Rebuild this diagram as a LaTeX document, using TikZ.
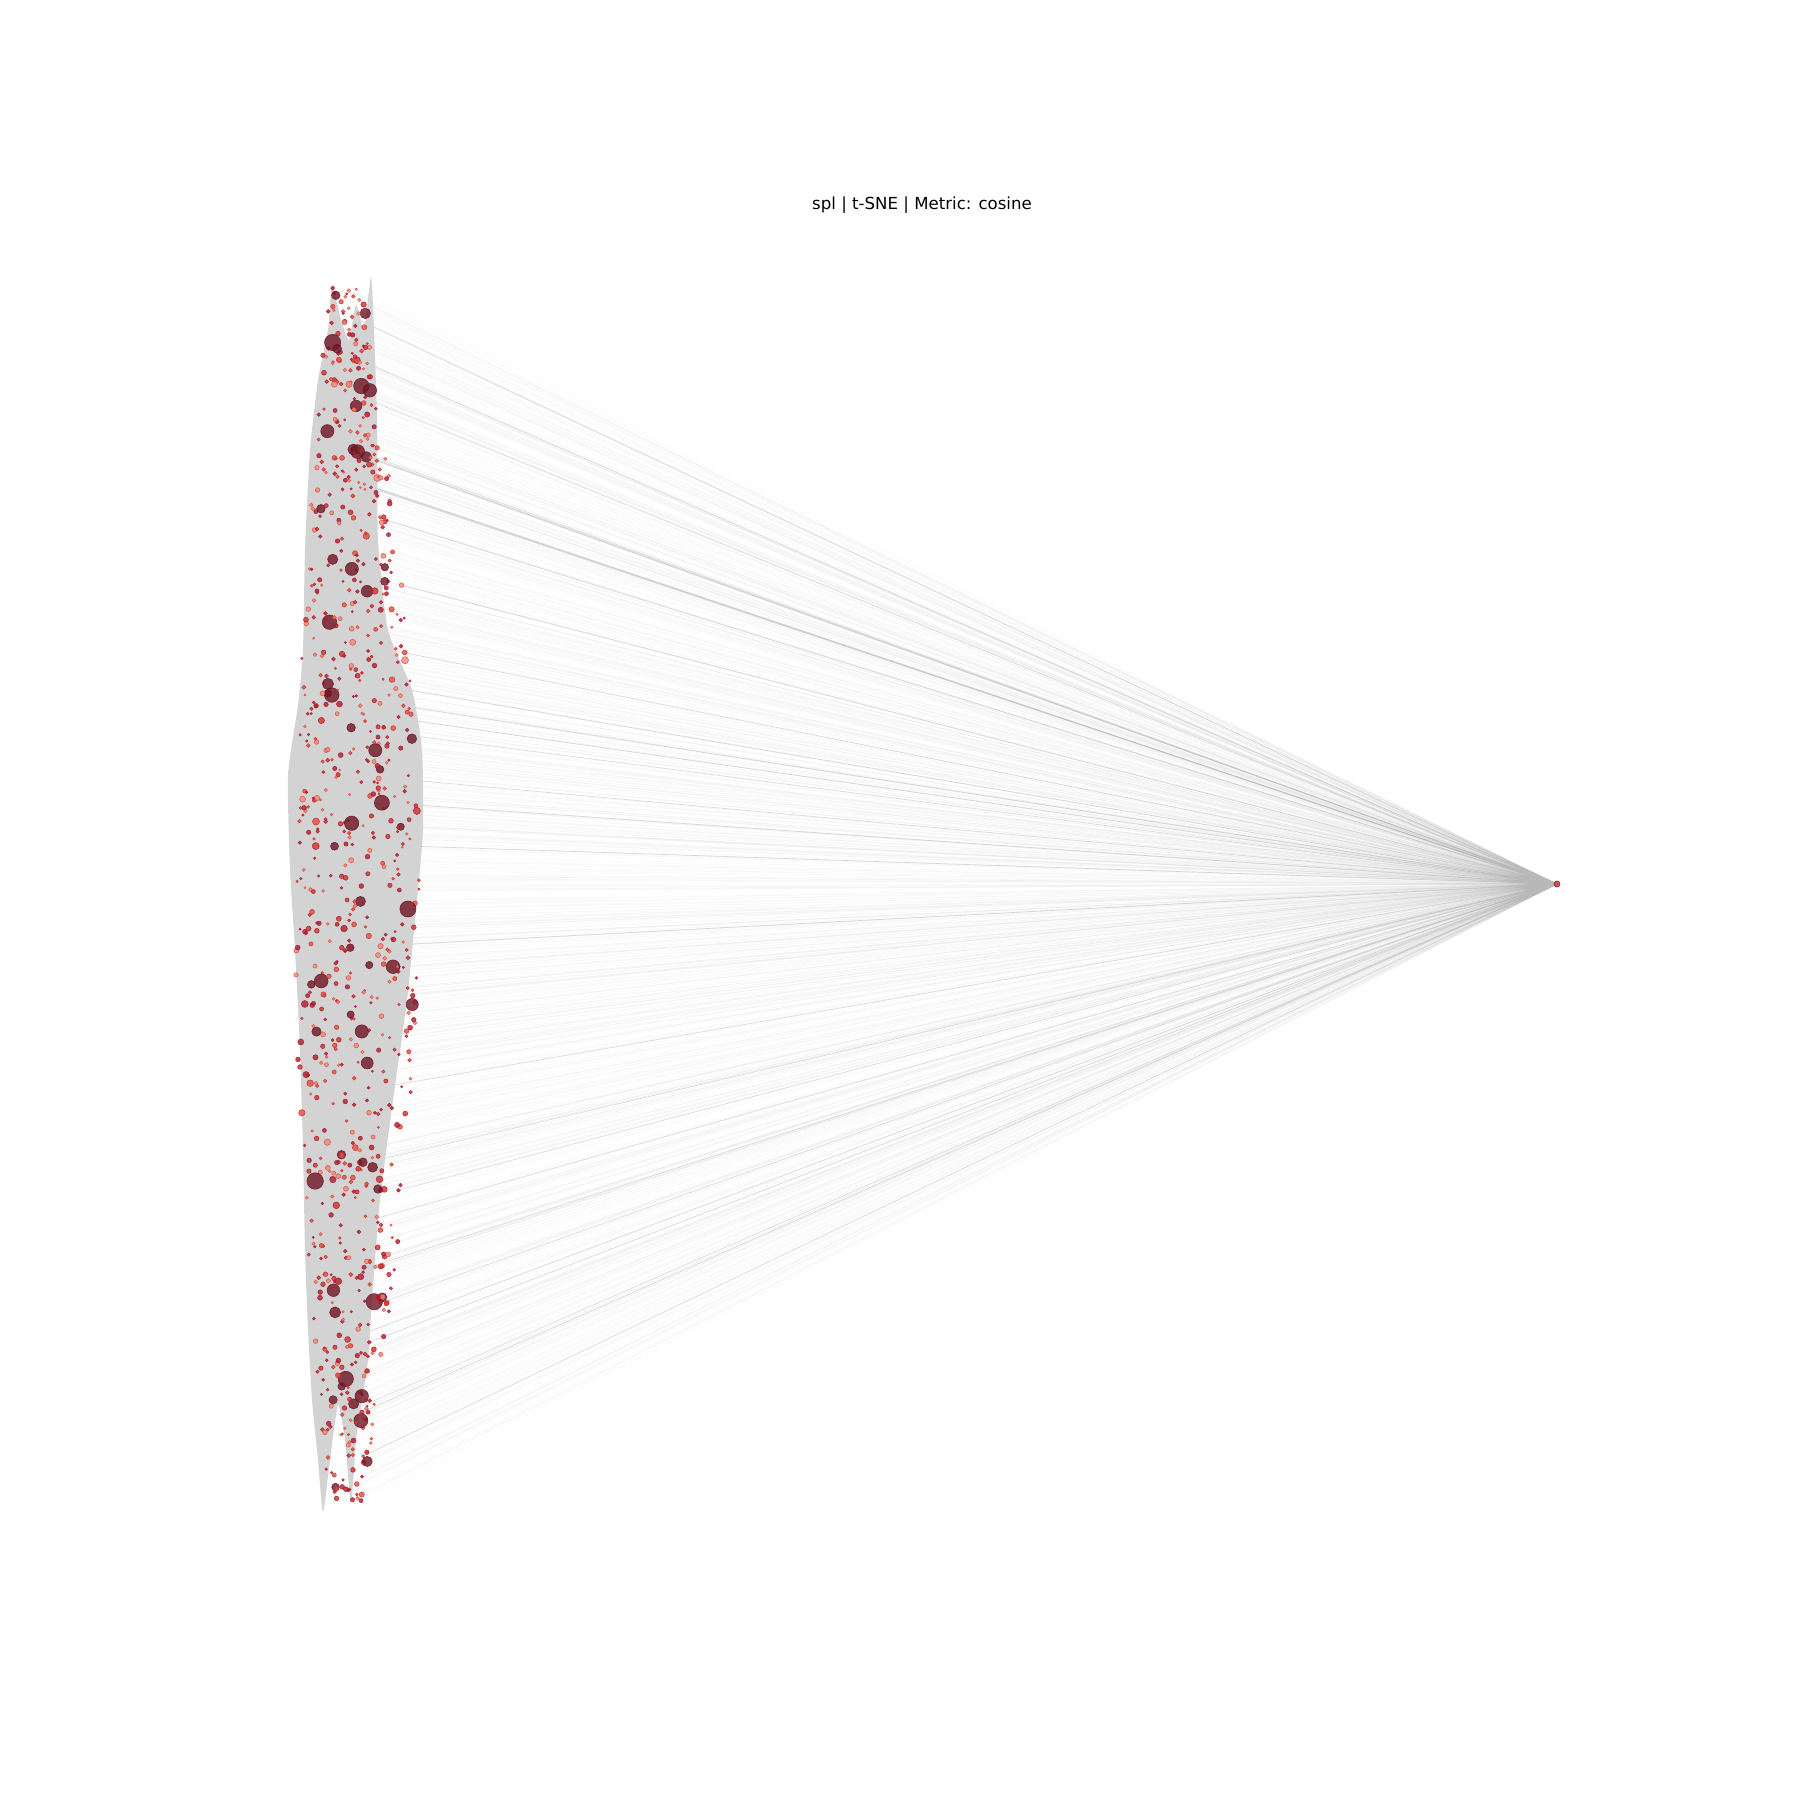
\documentclass[tikz,border=0pt]{standalone}
\usepackage{fontspec}
\setmainfont{DejaVu Sans}
\definecolor{envgray}{HTML}{D3D3D3}
\definecolor{edgegray}{HTML}{B8B8B8}
\definecolor{rdA}{HTML}{6E1423}
\definecolor{rdB}{HTML}{B01C2E}
\definecolor{rdC}{HTML}{D0302A}
\definecolor{rdD}{HTML}{E04F40}
\definecolor{rdE}{HTML}{EF8A7A}
\tikzset{
  pt/.style={circle, inner sep=0pt, fill opacity=0.8, draw opacity=0.85, line width=0.3pt},
  edge/.style={draw=edgegray, line width=0.25pt, opacity=0.08},
  strongedge/.style={draw=edgegray, line width=0.35pt, opacity=0.5},
  titlestyle/.style={font=\fontsize{8.3}{10}\selectfont, text=black}
}
\begin{document}
\begin{tikzpicture}[x=0.5pt, y=-0.5pt]
\fill[white] (0,0) rectangle (1800,1800);
\useasboundingbox (0,0) rectangle (1800,1800);
\node[titlestyle] (title) at (922,205) {spl | t-SNE | Metric: cosine};
\coordinate (hub) at (1557,884);
\pgfmathsetseed{7}
\foreach \i in {1,...,900}{
  \pgfmathsetmacro\yy{288+1215*rnd}
  \pgfmathsetmacro\ss{sin((\yy-280)/1230*180)}
  \pgfmathsetmacro\hw{16+46*\ss}
  \pgfmathsetmacro\cx{345+12*\ss}
  \pgfmathsetmacro\xx{\cx+\hw*(2*rnd-1)}
  \coordinate (p\i) at (\xx,\yy);
  \pgfmathtruncatemacro\md{mod(\i,29)}
  \ifnum\md=0
    \draw[strongedge] (p\i) -- (hub);
  \else
    \draw[edge] (p\i) -- (hub);
  \fi
}
\fill[envgray] plot[smooth cycle, tension=0.35] coordinates {
 (332,285) (328,330) (318,380) (310,450) (305,550) (303,650) (298,705) (288,775)
 (290,870) (295,950) (300,1050) (303,1150) (305,1250) (308,1330) (312,1400) (318,1460)
 (323,1512) (330,1460) (338,1405) (345,1440) (351,1503) (356,1440) (362,1400)
 (368,1360) (372,1300) (380,1200) (393,1100) (407,1000) (417,900) (423,830)
 (422,750) (412,690) (388,630) (378,540) (377,420) (374,330) (371,277) (364,330)
 (356,305) (349,340) (341,320)};
\foreach \i in {1,...,900}{
  \pgfmathsetmacro\rr{1.0+1.5*rnd+7*rnd^20}
  \pgfmathtruncatemacro\cj{int(1+3.99*rnd)}
  \pgfmathtruncatemacro\ci{\rr>3.6 ? 0 : \cj}
  \ifcase\ci
    \node[pt, minimum size=\rr pt, fill=rdA, draw=rdA] (q\i) at (p\i) {};
  \or
    \node[pt, minimum size=\rr pt, fill=rdB, draw=rdB] (q\i) at (p\i) {};
  \or
    \node[pt, minimum size=\rr pt, fill=rdC, draw=rdB] (q\i) at (p\i) {};
  \or
    \node[pt, minimum size=\rr pt, fill=rdD, draw=rdC] (q\i) at (p\i) {};
  \else
    \node[pt, minimum size=\rr pt, fill=rdE, draw=rdD] (q\i) at (p\i) {};
  \fi
}
\node[pt, minimum size=3pt, fill=rdC, draw=rdA] (hubdot) at (hub) {};
\end{tikzpicture}
\end{document}
